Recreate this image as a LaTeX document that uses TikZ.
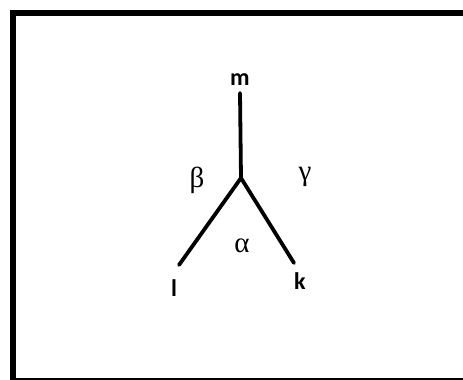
\documentclass[tikz,border=0pt]{standalone}
\usepackage{fontspec}
\setmainfont{Carlito}
\newfontfamily\greekfont{Liberation Serif}
\begin{document}
\begin{tikzpicture}[x=1pt,y=1pt,
  edge/.style={line width=3.8pt,line cap=round},
  lbl/.style={font=\fontsize{24}{24}\selectfont\bfseries,inner sep=0pt,anchor=base},
  glbl/.style={font=\greekfont\fontsize{29}{29}\selectfont,inner sep=0pt,anchor=base}]
\useasboundingbox (0,0) rectangle (463,380);
\fill[white] (0,0) rectangle (463,380);
% frame
\draw[line width=5.5pt] (13,-5) -- (13,367) -- (470,367);
\draw[line width=2pt] (13,1) -- (470,1);
% graph
\coordinate (j) at (241,202);
\coordinate (mt) at (240,287);
\coordinate (lt) at (179,115);
\coordinate (kt) at (294,117);
\draw[edge] (mt) -- (j);
\draw[edge] (j) -- (lt);
\draw[edge] (j) -- (kt);
\node[lbl] (m) at (240,294) {m};
\node[lbl] (l) at (174,83) {l};
\node[lbl] (k) at (300,90) {k};
\node[glbl] (b) at (197,192) {β};
\node[glbl] (g) at (305,199) {γ};
\node[glbl] (a) at (242,127) {α};
\end{tikzpicture}
\end{document}
